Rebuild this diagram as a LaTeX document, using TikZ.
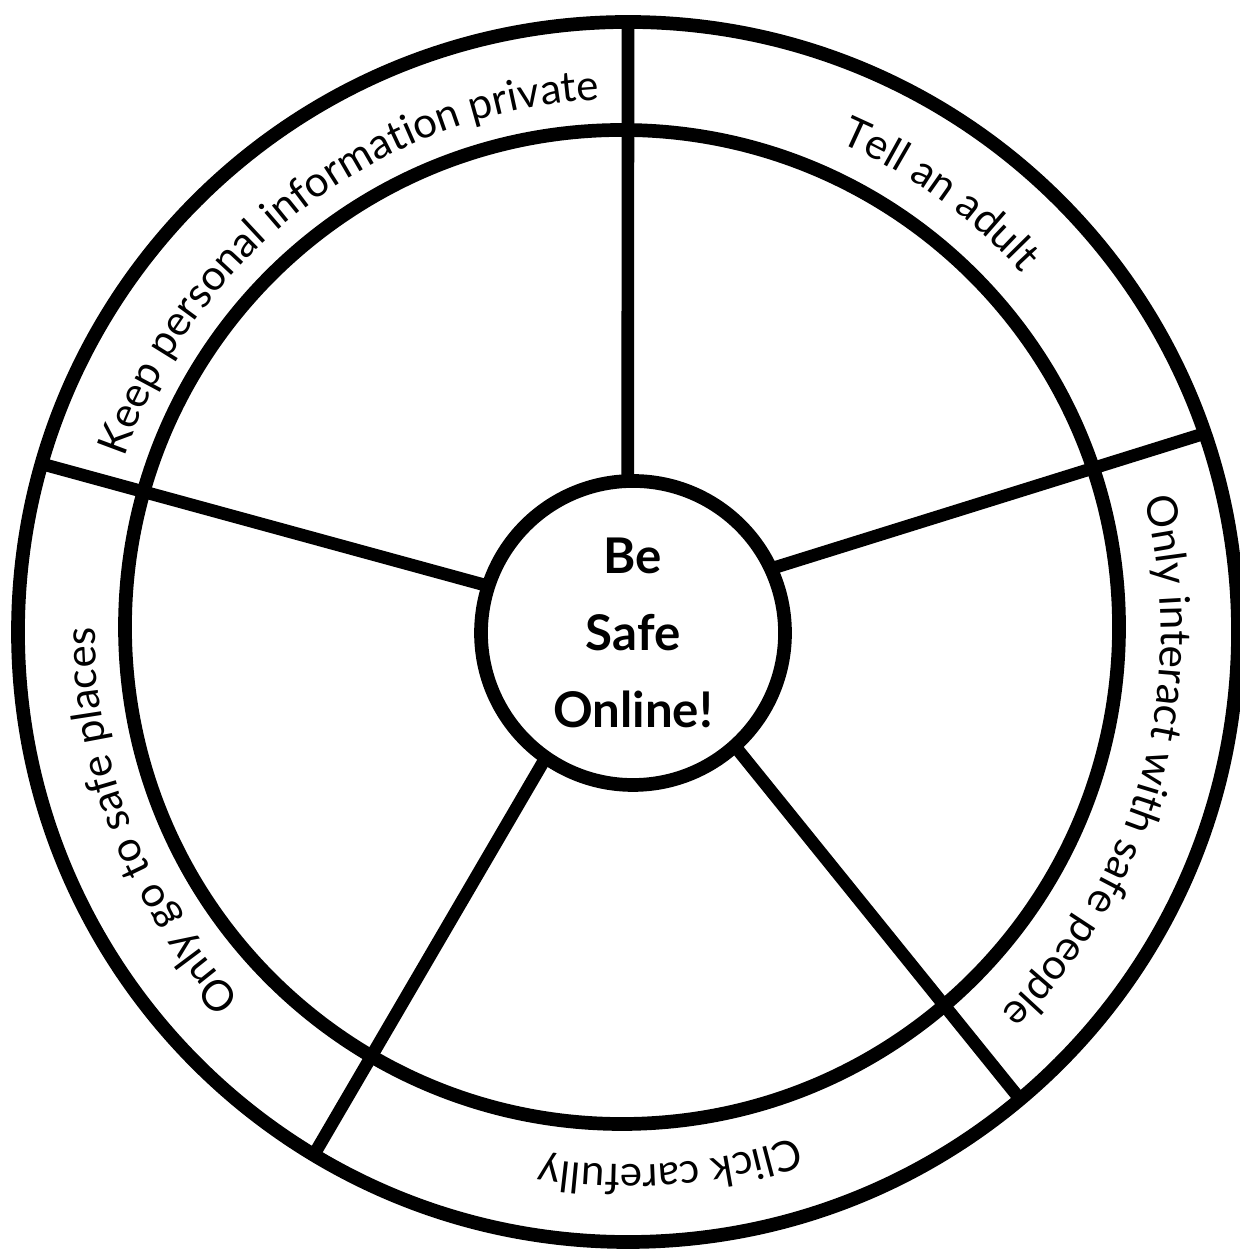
\documentclass[tikz,border=0pt]{standalone}
\usepackage{fontspec}
\setmainfont{Lato}
\usepackage{tikz}
\usetikzlibrary{decorations.text}
\newcommand{\ringfont}{\fontsize{12}{15}\selectfont}
\newcommand{\hubfont}{\fontsize{14}{22}\selectfont\bfseries}

\begin{document}
\begin{tikzpicture}[
  ring/.style={draw, circle, line width=3.9pt, inner sep=0pt, outer sep=0pt},
  spoke/.style={line width=3.6pt},
  ringtext/.style={decorate, decoration={text along path, text align=center, text={|\ringfont|#1}}}
]
  \useasboundingbox[fill=white] (0,0) rectangle (12.39,12.51);

  \node[ring, minimum size=12.2cm] (rim) at (6.28,6.19) {};
  \node[ring, minimum size=9.94cm] (band) at (6.22,6.24) {};
  \node[ring, minimum size=3.04cm, align=center, font=\hubfont] (hub) at (6.33,6.18) {Be\\Safe\\Online!};

  % spokes
  \draw[spoke] (hub.92) -- (rim.90);
  \draw[spoke] (hub.25) -- (rim.19);
  \draw[spoke] (hub.312) -- (rim.310);
  \draw[spoke] (hub.235) -- (rim.239);
  \draw[spoke] (hub.162) -- (rim.164);

  % sector labels, clockwise along the outer band
  \path[ringtext={Keep personal information private}] (rim.center) ++(164:5.33) arc[start angle=164, end angle=90, radius=5.33];
  \path[ringtext={Tell an adult}] (rim.center) ++(90:5.33) arc[start angle=90, end angle=19, radius=5.33];
  \path[ringtext={Only interact with safe people}] (rim.center) ++(19:5.33) arc[start angle=19, end angle=-50, radius=5.33];
  \path[ringtext={Click carefully}] (rim.center) ++(-50:5.33) arc[start angle=-50, end angle=-121, radius=5.33];
  \path[ringtext={Only go to safe places}] (rim.center) ++(239:5.33) arc[start angle=239, end angle=164, radius=5.33];
\end{tikzpicture}
\end{document}
